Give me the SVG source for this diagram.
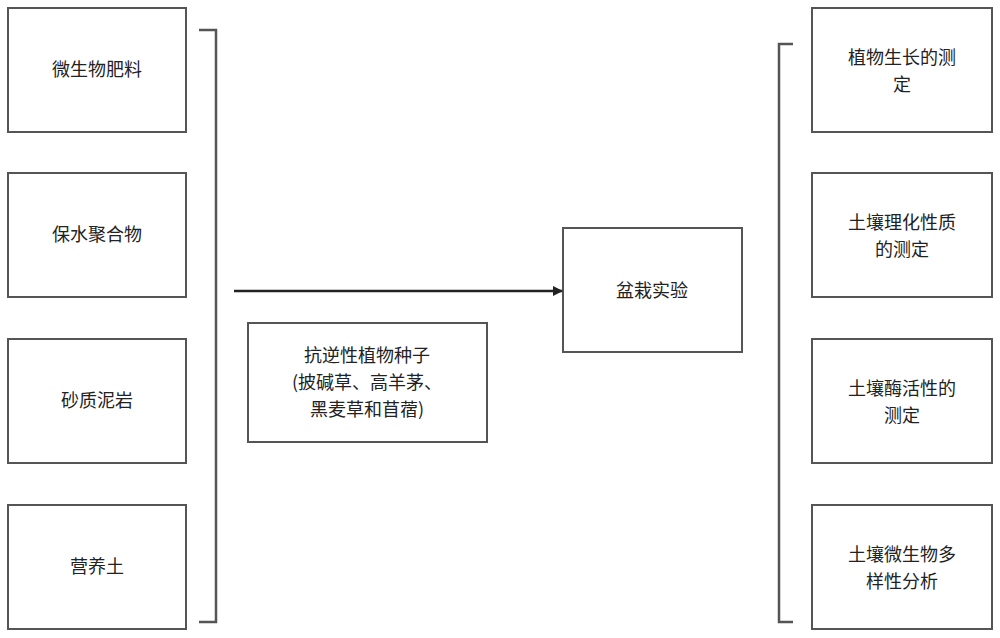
<svg xmlns="http://www.w3.org/2000/svg" width="1000" height="638" viewBox="0 0 1000 638">
<style>
.b{fill:#fff;stroke:#555;stroke-width:2}
.t{font-family:"Noto Sans CJK SC","Noto Sans",sans-serif;font-size:18px;fill:#222;text-anchor:middle}
.l{fill:none;stroke:#555;stroke-width:2.5}
</style>
<defs><marker id="a" markerWidth="10" markerHeight="10" refX="9" refY="5" orient="auto" markerUnits="userSpaceOnUse" viewBox="0 0 10 10"><path d="M0,0L10,5L0,10z" fill="#222"/></marker></defs>
<rect width="1000" height="638" fill="#fff"/>
<g id="n1"><rect class="b" x="8" y="8" width="178" height="124"/><text class="t" x="97" y="76">微生物肥料</text></g>
<g id="n2"><rect class="b" x="8" y="173" width="178" height="124"/><text class="t" x="97" y="241">保水聚合物</text></g>
<g id="n3"><rect class="b" x="8" y="339" width="178" height="124"/><text class="t" x="97" y="407">砂质泥岩</text></g>
<g id="n4"><rect class="b" x="8" y="505" width="178" height="124"/><text class="t" x="97" y="573">营养土</text></g>
<g id="seed"><rect class="b" x="248" y="323" width="239" height="119"/><text class="t" x="367" y="362">抗逆性植物种子</text><text class="t" x="367" y="389">(披碱草、高羊茅、</text><text class="t" x="367" y="416">黑麦草和苜蓿)</text></g>
<g id="pot"><rect class="b" x="563" y="228" width="179" height="124"/><text class="t" x="652" y="297">盆栽实验</text></g>
<g id="r1"><rect class="b" x="812" y="8" width="180" height="124"/><text class="t" x="902" y="64">植物生长的测</text><text class="t" x="902" y="91">定</text></g>
<g id="r2"><rect class="b" x="812" y="173" width="180" height="124"/><text class="t" x="902" y="229">土壤理化性质</text><text class="t" x="902" y="256">的测定</text></g>
<g id="r3"><rect class="b" x="812" y="339" width="180" height="124"/><text class="t" x="902" y="395">土壤酶活性的</text><text class="t" x="902" y="422">测定</text></g>
<g id="r4"><rect class="b" x="812" y="505" width="180" height="124"/><text class="t" x="902" y="561">土壤微生物多</text><text class="t" x="902" y="588">样性分析</text></g>
<g id="connectors">
<path class="l" d="M199,30H216V622H199"/>
<path class="l" d="M793,44H779V622H793"/>
<line x1="234" y1="291" x2="562" y2="291" stroke="#222" stroke-width="2.5" marker-end="url(#a)"/>
</g>
</svg>
